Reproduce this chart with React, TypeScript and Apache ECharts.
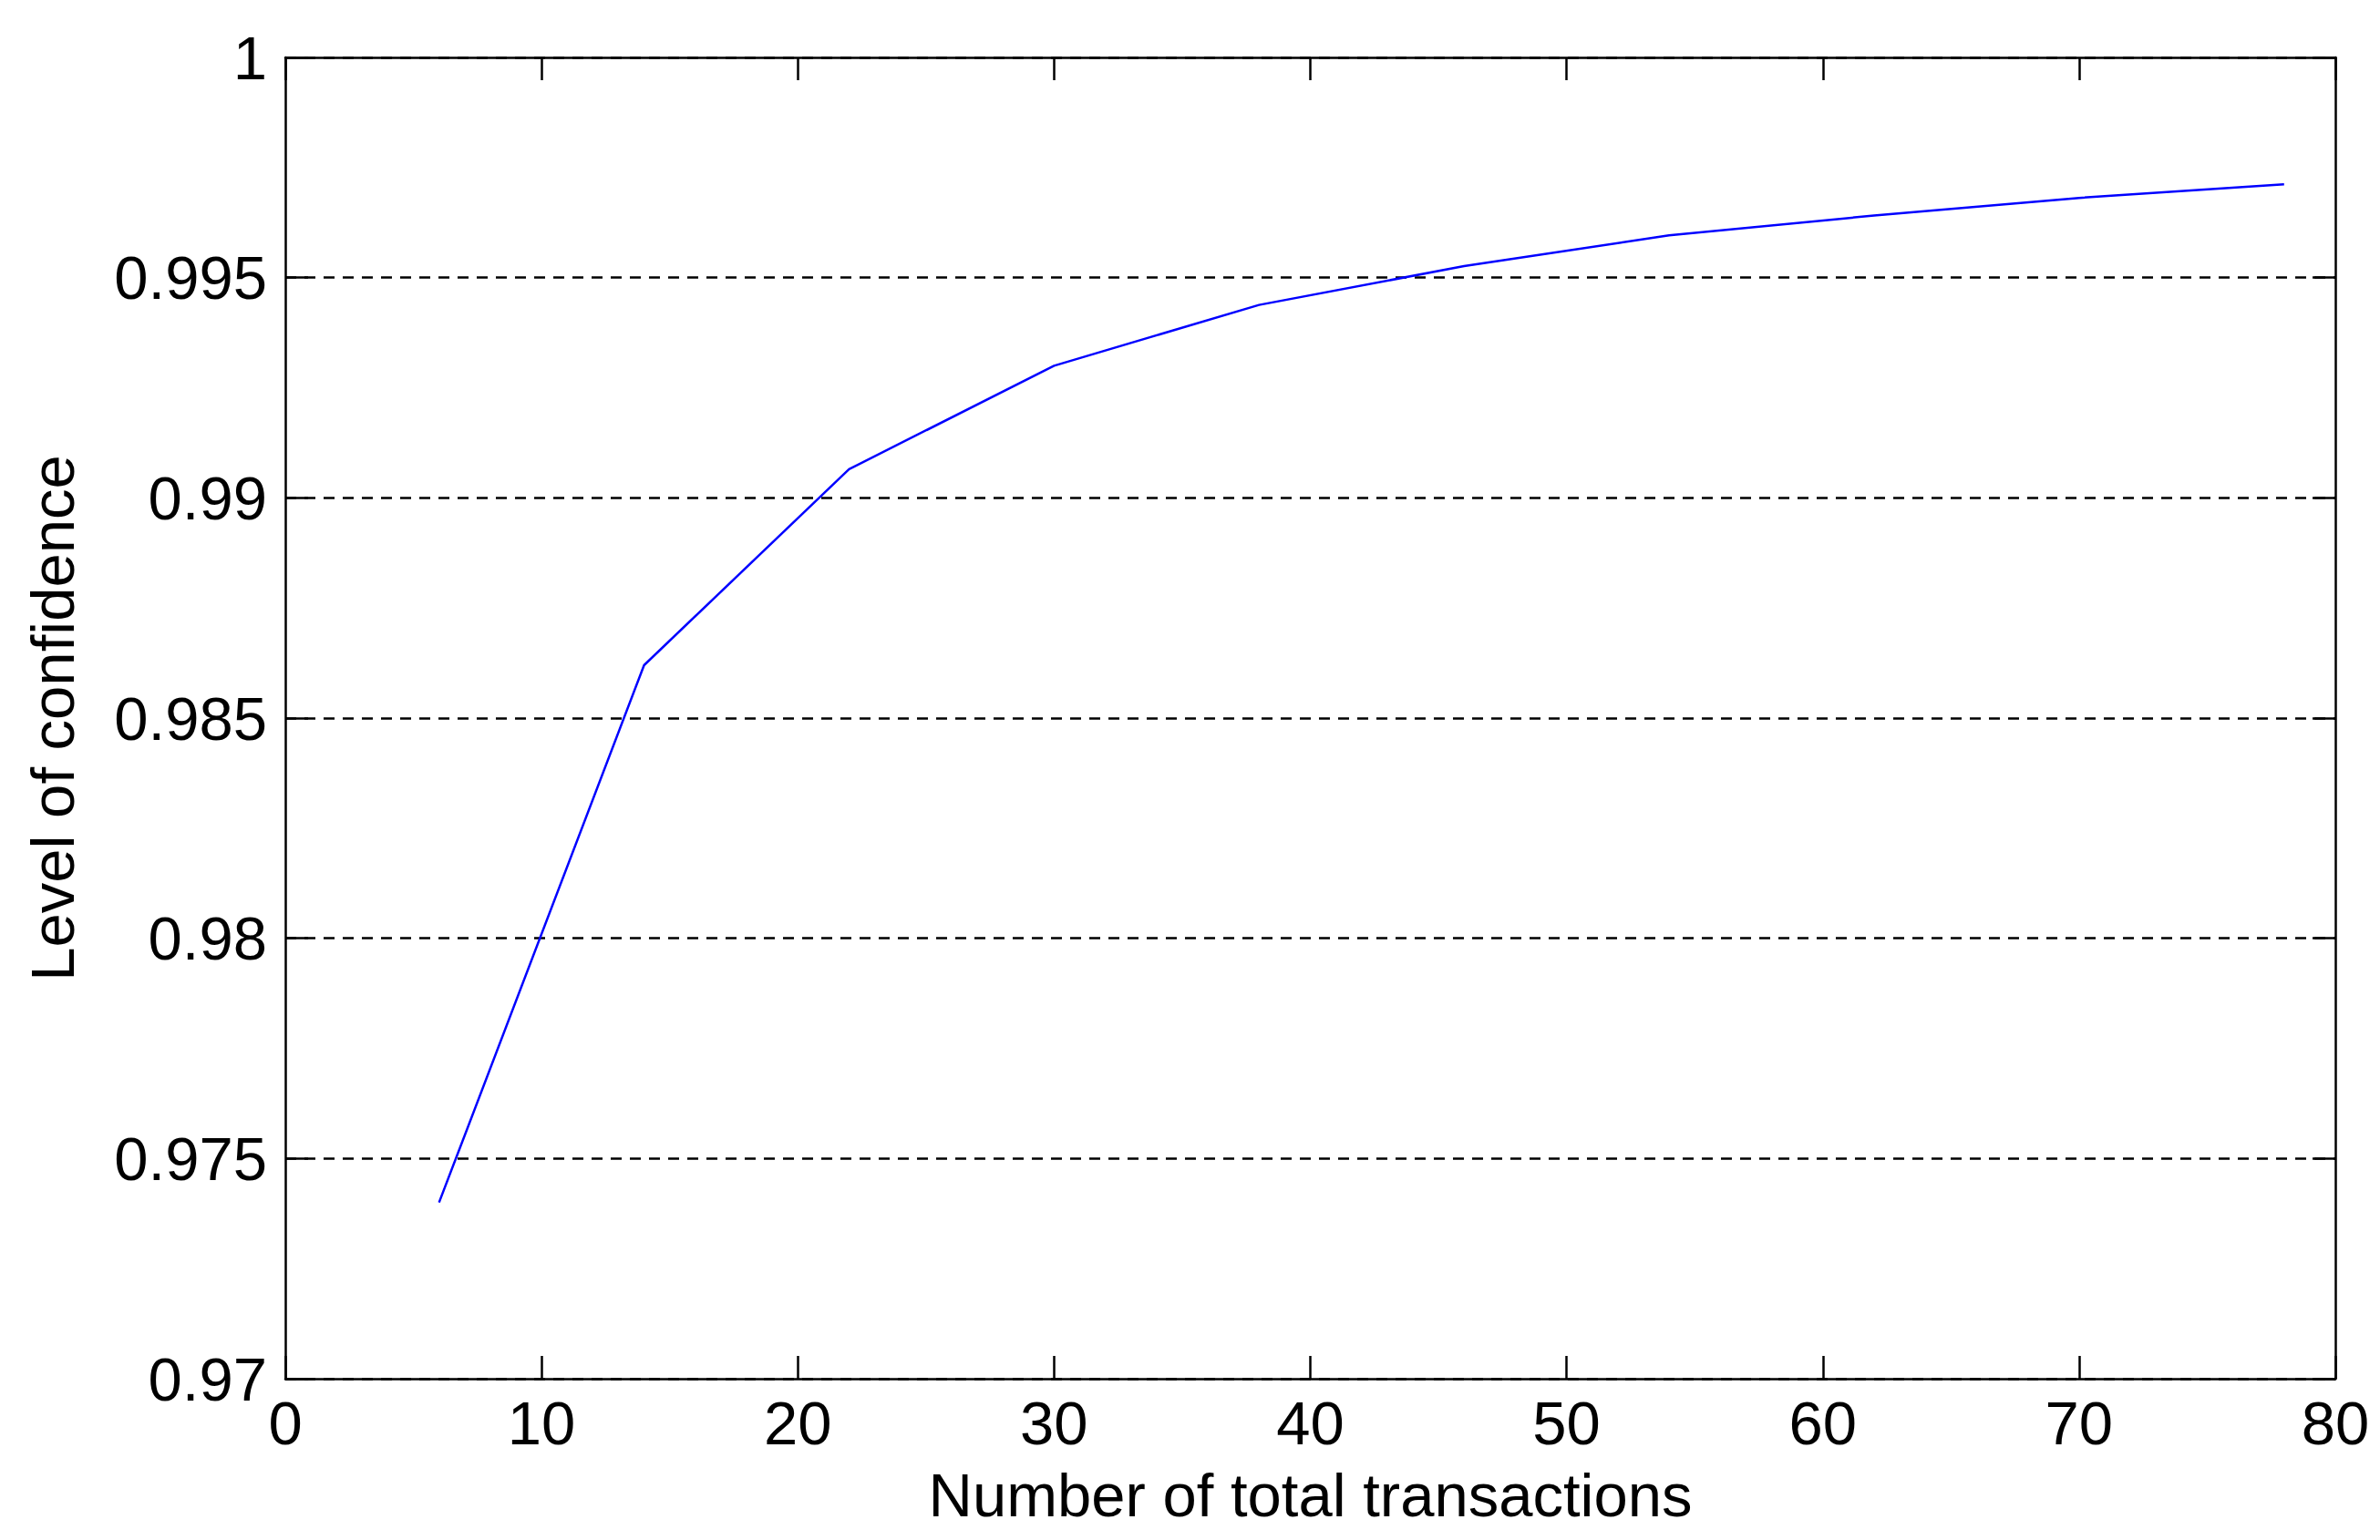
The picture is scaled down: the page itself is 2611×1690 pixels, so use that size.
import React, { useEffect, useRef } from "react";
import * as echarts from "echarts";

const transactions = [6, 14, 22, 30, 38, 46, 54, 62, 70, 78];
const confidence = [0.974, 0.9862, 0.99065, 0.993, 0.99438, 0.99526, 0.99596, 0.99641, 0.99681, 0.99712];
const xTicks = [0, 80, 10];
const yTicks = [0.97, 1, 0.005];
const xName = "Number of total transactions";
const yName = "Level of confidence";

const FONT = "Liberation Sans";
const FS = 67;

export default function App() {
  const ref = useRef<HTMLDivElement>(null);
  useEffect(() => {
    if (!ref.current) return;
    const chart = echarts.init(ref.current, undefined, { renderer: "svg" });
    const axisLine = { show: true, onZero: false, lineStyle: { color: "#000", width: 2.5 } };
    const tick = { show: true, inside: true, length: 25, lineStyle: { color: "#000", width: 2.5 } };
    const data = transactions.map((x, i) => [x, confidence[i]]);
    chart.setOption({
      animation: false,
      backgroundColor: "#fff",
      grid: { left: 313, top: 63, width: 2249, height: 1450, containLabel: false },
      xAxis: [
        {
          type: "value",
          position: "bottom",
          min: xTicks[0],
          max: xTicks[1],
          interval: xTicks[2],
          axisLine,
          axisTick: tick,
          splitLine: { show: false },
          axisLabel: { color: "#000", fontFamily: FONT, fontSize: FS, margin: 15 },
          name: xName,
          nameLocation: "middle",
          nameGap: 94,
          nameTextStyle: { color: "#000", fontFamily: FONT, fontSize: FS },
        },
        {
          type: "value",
          position: "top",
          min: xTicks[0],
          max: xTicks[1],
          interval: xTicks[2],
          axisLine,
          axisTick: tick,
          splitLine: { show: false },
          axisLabel: { show: false },
        },
      ],
      yAxis: [
        {
          type: "value",
          position: "left",
          min: yTicks[0],
          max: yTicks[1],
          interval: yTicks[2],
          axisLine,
          axisTick: tick,
          splitLine: { show: true, lineStyle: { color: "#000", width: 2.5, type: [12, 9] } },
          axisLabel: { color: "#000", fontFamily: FONT, fontSize: FS, margin: 20 },
          name: yName,
          nameLocation: "middle",
          nameGap: 222,
          nameTextStyle: { color: "#000", fontFamily: FONT, fontSize: FS },
        },
        {
          type: "value",
          position: "right",
          min: yTicks[0],
          max: yTicks[1],
          interval: yTicks[2],
          axisLine,
          axisTick: tick,
          splitLine: { show: false },
          axisLabel: { show: false },
        },
      ],
      series: [
        {
          type: "line",
          xAxisIndex: 0,
          yAxisIndex: 0,
          data,
          showSymbol: false,
          symbol: "none",
          lineStyle: { color: "#0000ff", width: 2.5 },
          z: 5,
        },
      ],
    });
    return () => chart.dispose();
  }, []);
  return (
    <div
      ref={ref}
      style={{ position: "fixed", left: 0, top: 0, width: 2611, height: 1690, background: "#fff" }}
    />
  );
}
